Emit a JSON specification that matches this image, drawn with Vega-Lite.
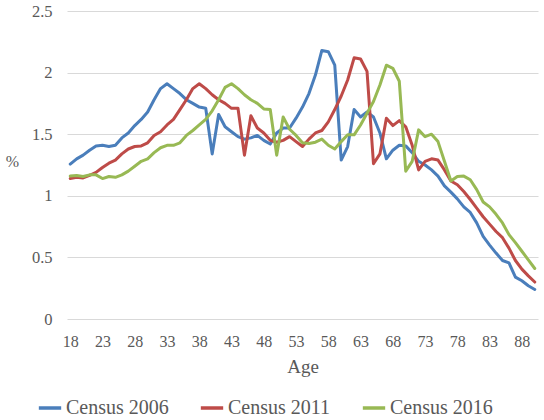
{
  "$schema": "https://vega.github.io/schema/vega-lite/v6.json",
  "width": 471,
  "height": 308,
  "autosize": {"type": "none"},
  "padding": {"left": 67, "top": 11, "right": 6, "bottom": 101},
  "background": "white",
  "config": {
    "font": "Liberation Serif",
    "view": {"stroke": null},
    "axis": {"labelColor": "#595959", "titleColor": "#595959", "titleFontWeight": "normal", "labelFont": "Liberation Serif", "titleFont": "Liberation Serif"},
    "legend": {"labelFont": "Liberation Serif", "titleFont": "Liberation Serif"}
  },
  "data": {
    "values": [
      {"age":18,"s":"Census 2006","v":1.257},{"age":19,"s":"Census 2006","v":1.30},{"age":20,"s":"Census 2006","v":1.33},{"age":21,"s":"Census 2006","v":1.37},{"age":22,"s":"Census 2006","v":1.405},{"age":23,"s":"Census 2006","v":1.41},{"age":24,"s":"Census 2006","v":1.40},{"age":25,"s":"Census 2006","v":1.41},{"age":26,"s":"Census 2006","v":1.47},{"age":27,"s":"Census 2006","v":1.51},{"age":28,"s":"Census 2006","v":1.57},{"age":29,"s":"Census 2006","v":1.62},{"age":30,"s":"Census 2006","v":1.68},{"age":31,"s":"Census 2006","v":1.78},{"age":32,"s":"Census 2006","v":1.87},{"age":33,"s":"Census 2006","v":1.91},{"age":34,"s":"Census 2006","v":1.87},{"age":35,"s":"Census 2006","v":1.83},{"age":36,"s":"Census 2006","v":1.78},{"age":37,"s":"Census 2006","v":1.75},{"age":38,"s":"Census 2006","v":1.72},{"age":39,"s":"Census 2006","v":1.71},{"age":40,"s":"Census 2006","v":1.34},{"age":41,"s":"Census 2006","v":1.66},{"age":42,"s":"Census 2006","v":1.56},{"age":43,"s":"Census 2006","v":1.52},{"age":44,"s":"Census 2006","v":1.48},{"age":45,"s":"Census 2006","v":1.46},{"age":46,"s":"Census 2006","v":1.47},{"age":47,"s":"Census 2006","v":1.49},{"age":48,"s":"Census 2006","v":1.45},{"age":49,"s":"Census 2006","v":1.42},{"age":50,"s":"Census 2006","v":1.51},{"age":51,"s":"Census 2006","v":1.55},{"age":52,"s":"Census 2006","v":1.55},{"age":53,"s":"Census 2006","v":1.63},{"age":54,"s":"Census 2006","v":1.72},{"age":55,"s":"Census 2006","v":1.83},{"age":56,"s":"Census 2006","v":1.98},{"age":57,"s":"Census 2006","v":2.18},{"age":58,"s":"Census 2006","v":2.17},{"age":59,"s":"Census 2006","v":2.06},{"age":60,"s":"Census 2006","v":1.29},{"age":61,"s":"Census 2006","v":1.40},{"age":62,"s":"Census 2006","v":1.70},{"age":63,"s":"Census 2006","v":1.64},{"age":64,"s":"Census 2006","v":1.68},{"age":65,"s":"Census 2006","v":1.64},{"age":66,"s":"Census 2006","v":1.51},{"age":67,"s":"Census 2006","v":1.30},{"age":68,"s":"Census 2006","v":1.37},{"age":69,"s":"Census 2006","v":1.41},{"age":70,"s":"Census 2006","v":1.405},{"age":71,"s":"Census 2006","v":1.35},{"age":72,"s":"Census 2006","v":1.28},{"age":73,"s":"Census 2006","v":1.25},{"age":74,"s":"Census 2006","v":1.21},{"age":75,"s":"Census 2006","v":1.16},{"age":76,"s":"Census 2006","v":1.08},{"age":77,"s":"Census 2006","v":1.03},{"age":78,"s":"Census 2006","v":0.975},{"age":79,"s":"Census 2006","v":0.91},{"age":80,"s":"Census 2006","v":0.865},{"age":81,"s":"Census 2006","v":0.78},{"age":82,"s":"Census 2006","v":0.67},{"age":83,"s":"Census 2006","v":0.60},{"age":84,"s":"Census 2006","v":0.535},{"age":85,"s":"Census 2006","v":0.475},{"age":86,"s":"Census 2006","v":0.455},{"age":87,"s":"Census 2006","v":0.34},{"age":88,"s":"Census 2006","v":0.31},{"age":89,"s":"Census 2006","v":0.27},{"age":90,"s":"Census 2006","v":0.24},
      {"age":18,"s":"Census 2011","v":1.14},{"age":19,"s":"Census 2011","v":1.15},{"age":20,"s":"Census 2011","v":1.145},{"age":21,"s":"Census 2011","v":1.165},{"age":22,"s":"Census 2011","v":1.19},{"age":23,"s":"Census 2011","v":1.23},{"age":24,"s":"Census 2011","v":1.265},{"age":25,"s":"Census 2011","v":1.29},{"age":26,"s":"Census 2011","v":1.34},{"age":27,"s":"Census 2011","v":1.38},{"age":28,"s":"Census 2011","v":1.40},{"age":29,"s":"Census 2011","v":1.405},{"age":30,"s":"Census 2011","v":1.43},{"age":31,"s":"Census 2011","v":1.49},{"age":32,"s":"Census 2011","v":1.52},{"age":33,"s":"Census 2011","v":1.575},{"age":34,"s":"Census 2011","v":1.62},{"age":35,"s":"Census 2011","v":1.70},{"age":36,"s":"Census 2011","v":1.78},{"age":37,"s":"Census 2011","v":1.87},{"age":38,"s":"Census 2011","v":1.91},{"age":39,"s":"Census 2011","v":1.87},{"age":40,"s":"Census 2011","v":1.82},{"age":41,"s":"Census 2011","v":1.78},{"age":42,"s":"Census 2011","v":1.75},{"age":43,"s":"Census 2011","v":1.71},{"age":44,"s":"Census 2011","v":1.71},{"age":45,"s":"Census 2011","v":1.33},{"age":46,"s":"Census 2011","v":1.65},{"age":47,"s":"Census 2011","v":1.55},{"age":48,"s":"Census 2011","v":1.51},{"age":49,"s":"Census 2011","v":1.45},{"age":50,"s":"Census 2011","v":1.435},{"age":51,"s":"Census 2011","v":1.45},{"age":52,"s":"Census 2011","v":1.48},{"age":53,"s":"Census 2011","v":1.44},{"age":54,"s":"Census 2011","v":1.40},{"age":55,"s":"Census 2011","v":1.46},{"age":56,"s":"Census 2011","v":1.51},{"age":57,"s":"Census 2011","v":1.53},{"age":58,"s":"Census 2011","v":1.60},{"age":59,"s":"Census 2011","v":1.70},{"age":60,"s":"Census 2011","v":1.81},{"age":61,"s":"Census 2011","v":1.94},{"age":62,"s":"Census 2011","v":2.12},{"age":63,"s":"Census 2011","v":2.11},{"age":64,"s":"Census 2011","v":2.01},{"age":65,"s":"Census 2011","v":1.26},{"age":66,"s":"Census 2011","v":1.34},{"age":67,"s":"Census 2011","v":1.63},{"age":68,"s":"Census 2011","v":1.57},{"age":69,"s":"Census 2011","v":1.61},{"age":70,"s":"Census 2011","v":1.56},{"age":71,"s":"Census 2011","v":1.41},{"age":72,"s":"Census 2011","v":1.21},{"age":73,"s":"Census 2011","v":1.28},{"age":74,"s":"Census 2011","v":1.30},{"age":75,"s":"Census 2011","v":1.29},{"age":76,"s":"Census 2011","v":1.21},{"age":77,"s":"Census 2011","v":1.12},{"age":78,"s":"Census 2011","v":1.09},{"age":79,"s":"Census 2011","v":1.035},{"age":80,"s":"Census 2011","v":0.97},{"age":81,"s":"Census 2011","v":0.90},{"age":82,"s":"Census 2011","v":0.83},{"age":83,"s":"Census 2011","v":0.77},{"age":84,"s":"Census 2011","v":0.71},{"age":85,"s":"Census 2011","v":0.66},{"age":86,"s":"Census 2011","v":0.575},{"age":87,"s":"Census 2011","v":0.475},{"age":88,"s":"Census 2011","v":0.405},{"age":89,"s":"Census 2011","v":0.35},{"age":90,"s":"Census 2011","v":0.30},
      {"age":18,"s":"Census 2016","v":1.16},{"age":19,"s":"Census 2016","v":1.165},{"age":20,"s":"Census 2016","v":1.157},{"age":21,"s":"Census 2016","v":1.17},{"age":22,"s":"Census 2016","v":1.17},{"age":23,"s":"Census 2016","v":1.14},{"age":24,"s":"Census 2016","v":1.157},{"age":25,"s":"Census 2016","v":1.15},{"age":26,"s":"Census 2016","v":1.17},{"age":27,"s":"Census 2016","v":1.20},{"age":28,"s":"Census 2016","v":1.24},{"age":29,"s":"Census 2016","v":1.28},{"age":30,"s":"Census 2016","v":1.30},{"age":31,"s":"Census 2016","v":1.35},{"age":32,"s":"Census 2016","v":1.39},{"age":33,"s":"Census 2016","v":1.41},{"age":34,"s":"Census 2016","v":1.41},{"age":35,"s":"Census 2016","v":1.43},{"age":36,"s":"Census 2016","v":1.49},{"age":37,"s":"Census 2016","v":1.53},{"age":38,"s":"Census 2016","v":1.575},{"age":39,"s":"Census 2016","v":1.62},{"age":40,"s":"Census 2016","v":1.69},{"age":41,"s":"Census 2016","v":1.78},{"age":42,"s":"Census 2016","v":1.88},{"age":43,"s":"Census 2016","v":1.91},{"age":44,"s":"Census 2016","v":1.87},{"age":45,"s":"Census 2016","v":1.82},{"age":46,"s":"Census 2016","v":1.78},{"age":47,"s":"Census 2016","v":1.75},{"age":48,"s":"Census 2016","v":1.705},{"age":49,"s":"Census 2016","v":1.70},{"age":50,"s":"Census 2016","v":1.33},{"age":51,"s":"Census 2016","v":1.64},{"age":52,"s":"Census 2016","v":1.54},{"age":53,"s":"Census 2016","v":1.49},{"age":54,"s":"Census 2016","v":1.43},{"age":55,"s":"Census 2016","v":1.425},{"age":56,"s":"Census 2016","v":1.435},{"age":57,"s":"Census 2016","v":1.46},{"age":58,"s":"Census 2016","v":1.41},{"age":59,"s":"Census 2016","v":1.38},{"age":60,"s":"Census 2016","v":1.44},{"age":61,"s":"Census 2016","v":1.495},{"age":62,"s":"Census 2016","v":1.495},{"age":63,"s":"Census 2016","v":1.575},{"age":64,"s":"Census 2016","v":1.67},{"age":65,"s":"Census 2016","v":1.765},{"age":66,"s":"Census 2016","v":1.90},{"age":67,"s":"Census 2016","v":2.06},{"age":68,"s":"Census 2016","v":2.035},{"age":69,"s":"Census 2016","v":1.93},{"age":70,"s":"Census 2016","v":1.20},{"age":71,"s":"Census 2016","v":1.28},{"age":72,"s":"Census 2016","v":1.535},{"age":73,"s":"Census 2016","v":1.48},{"age":74,"s":"Census 2016","v":1.50},{"age":75,"s":"Census 2016","v":1.44},{"age":76,"s":"Census 2016","v":1.28},{"age":77,"s":"Census 2016","v":1.12},{"age":78,"s":"Census 2016","v":1.157},{"age":79,"s":"Census 2016","v":1.16},{"age":80,"s":"Census 2016","v":1.13},{"age":81,"s":"Census 2016","v":1.05},{"age":82,"s":"Census 2016","v":0.95},{"age":83,"s":"Census 2016","v":0.91},{"age":84,"s":"Census 2016","v":0.85},{"age":85,"s":"Census 2016","v":0.78},{"age":86,"s":"Census 2016","v":0.685},{"age":87,"s":"Census 2016","v":0.62},{"age":88,"s":"Census 2016","v":0.55},{"age":89,"s":"Census 2016","v":0.48},{"age":90,"s":"Census 2016","v":0.41}
    ]
  },
  "mark": {"type": "line", "strokeWidth": 3, "strokeJoin": "round", "strokeCap": "round"},
  "encoding": {
    "x": {
      "field": "age", "type": "quantitative",
      "scale": {"domain": [17.5, 90.5], "nice": false, "zero": false},
      "axis": {
        "values": [18,23,28,33,38,43,48,53,58,63,68,73,78,83,88],
        "title": "Age", "grid": false, "ticks": false, "domain": false,
        "labelFont": "Liberation Serif", "titleFont": "Liberation Serif",
        "labelFontSize": 16, "labelPadding": 14, "titleFontSize": 19, "titlePadding": 8
      }
    },
    "y": {
      "field": "v", "type": "quantitative",
      "scale": {"domain": [0, 2.5], "nice": false},
      "axis": {
        "values": [0, 0.5, 1, 1.5, 2, 2.5], "format": "~g", "title": "%", "grid": true, "gridColor": "#d9d9d9",
        "ticks": false, "domain": false, "labelFontSize": 16.5, "labelPadding": 15,
        "labelFont": "Liberation Serif", "titleFont": "Liberation Serif",
        "titleAngle": 0, "titleFontSize": 16, "titleX": -55, "titleY": 150,
        "titleAlign": "center", "titleBaseline": "middle"
      }
    },
    "color": {
      "field": "s", "type": "nominal",
      "scale": {"domain": ["Census 2006", "Census 2011", "Census 2016"], "range": ["#4a7ebb", "#be4b48", "#98b954"]},
      "legend": {
        "title": null, "orient": "none", "direction": "horizontal",
        "legendX": -30, "legendY": 384,
        "symbolType": "stroke", "symbolSize": 500, "symbolStrokeWidth": 3.5,
        "labelFontSize": 20, "labelColor": "#595959", "labelOffset": 3, "columnPadding": 24
      }
    }
  }
}
